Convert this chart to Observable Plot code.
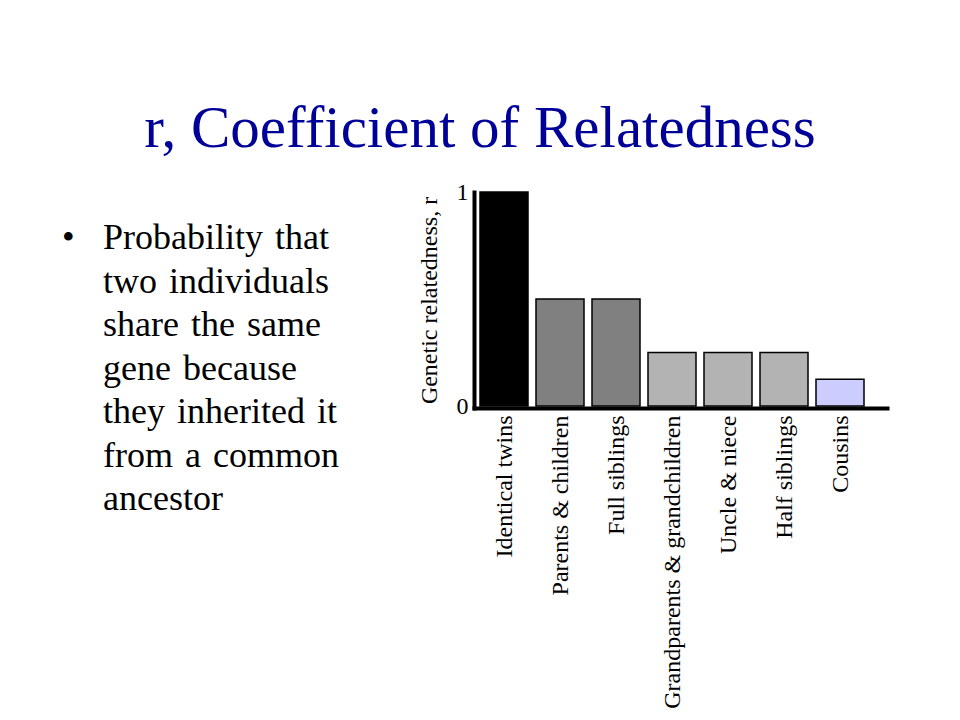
<!DOCTYPE html>
<html>
<head>
<meta charset="utf-8">
<script src="https://cdn.jsdelivr.net/npm/d3@7"></script>
<script src="https://cdn.jsdelivr.net/npm/@observablehq/plot@0.6"></script>
<style>
  body { margin: 0; background: #fff; }
  #wrap { position: relative; width: 960px; height: 720px; overflow: hidden; background: #fff;
          font-family: "Liberation Serif", "Times New Roman", serif; }
  #chart { position: absolute; left: 0; top: 0; }
  #title { position: absolute; left: 0; top: 98px; width: 960px; text-align: center;
           font-size: 59px; line-height: 59px; color: #000099; white-space: nowrap; }
  #bulletDot { position: absolute; left: 62px; top: 216px; font-size: 36px; line-height: 43.5px; color: #000; }
  #bullet { position: absolute; left: 103px; top: 216px; font-size: 36px; line-height: 43.5px; color: #000;
            white-space: nowrap; word-spacing: 3px; }
</style>
</head>
<body>
<div id="wrap">
  <div id="chart"></div>
  <div id="title"></div>
  <div id="bulletDot">•</div>
  <div id="bullet"></div>
</div>
<script>
const titleText = "r, Coefficient of Relatedness";
const bulletLines = ["Probability that", "two individuals", "share the same", "gene because", "they inherited it", "from a common", "ancestor"];
const relations = ["Identical twins", "Parents & children", "Full siblings", "Grandparents & grandchildren", "Uncle & niece", "Half siblings", "Cousins"];
const relatedness = [1, 0.5, 0.5, 0.25, 0.25, 0.25, 0.125];
const barColors = ["#000000", "#808080", "#808080", "#b3b3b3", "#b3b3b3", "#b3b3b3", "#ccccff"];
const yTicks = [0, 1];
const yLabel = "Genetic relatedness, r";

document.getElementById("title").textContent = titleText;
const b = document.getElementById("bullet");
bulletLines.forEach(l => { const d = document.createElement("div"); d.textContent = l; b.appendChild(d); });

const data = relations.map((rel, i) => ({relation: rel, r: relatedness[i], color: barColors[i]}));

const chart = Plot.plot({
  width: 960,
  height: 720,
  marginLeft: 474,
  marginRight: 73,
  marginTop: 192,
  marginBottom: 312,
  style: { fontFamily: "'Liberation Serif', 'Times New Roman', serif", fontSize: "24px", color: "#000", background: "transparent" },
  x: { domain: relations, range: [476, 868], paddingInner: 8 / 56, paddingOuter: 4 / 56, label: null },
  y: { domain: [0, 1], range: [406, 192], label: null },
  marks: [
    Plot.barY(data, { x: "relation", y: "r", fill: "color", stroke: "#000", strokeWidth: 1.5 }),
    Plot.frame({ anchor: "left", stroke: "#000", strokeWidth: 4, strokeLinecap: "square" }),
    Plot.frame({ anchor: "bottom", stroke: "#000", strokeWidth: 4 }),
    Plot.axisY({ ticks: yTicks, tickSize: 0, tickPadding: 6, fontSize: 24, tickFormat: d => String(d),
                 label: yLabel, labelAnchor: "center", labelArrow: "none", labelOffset: 55 }),
    Plot.axisX({ tickSize: 0, tickRotate: -90, tickPadding: 7, fontSize: 24, label: null })
  ]
});
document.getElementById("chart").appendChild(chart);
</script>
</body>
</html>
